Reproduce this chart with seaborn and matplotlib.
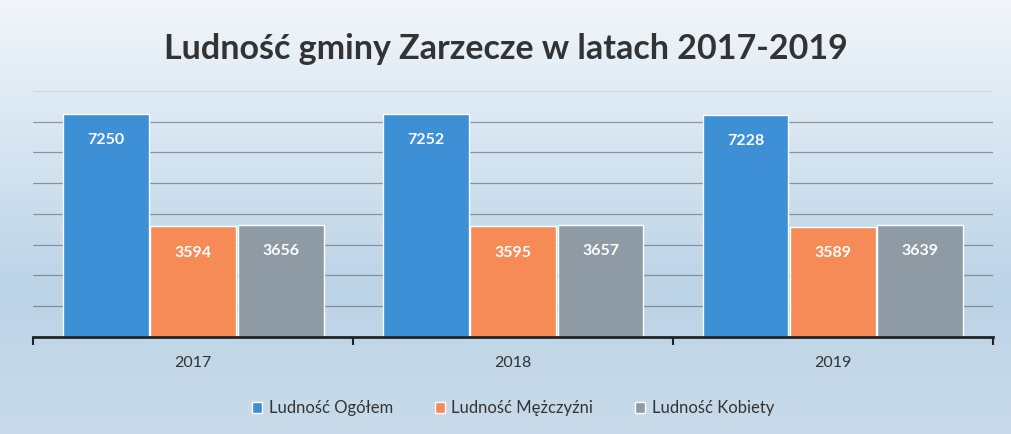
import numpy as np
import pandas as pd
import matplotlib
matplotlib.use("Agg")
import matplotlib.pyplot as plt
import seaborn as sns

sns.set_theme(style="white")
plt.rcParams["font.family"] = ["Lato", "DejaVu Sans"]

years = ["2017", "2018", "2019"]
series = ["Ludność Ogółem", "Ludność Mężczyźni", "Ludność Kobiety"]
ogolem = [7250, 7252, 7228]
mezczyzni = [3594, 3595, 3589]
kobiety = [3656, 3657, 3639]
colors = ["#3d8fd6", "#f68b57", "#8e9ba4"]

df = pd.DataFrame({
    "rok": years * 3,
    "seria": [s for s in series for _ in years],
    "liczba": ogolem + mezczyzni + kobiety,
})

fig = plt.figure(figsize=(10.11, 4.34), dpi=100)

# sky-like background
bg = fig.add_axes([0, 0, 1, 1], zorder=-10)
grad = np.linspace(0, 1, 256).reshape(-1, 1)
cmap = matplotlib.colors.LinearSegmentedColormap.from_list(
    "sky", ["#f2f6fa", "#d6e5f1", "#bcd3e6", "#c9dbea"])
bg.imshow(grad, aspect="auto", cmap=cmap, extent=[0, 1, 0, 1])
bg.axis("off")

ax = fig.add_axes([0.033, 0.2235, 0.949, 0.567])
ax.patch.set_alpha(0)
sns.barplot(data=df, x="rok", y="liczba", hue="seria", palette=colors,
            saturation=1, width=0.82, gap=0.02, ax=ax, legend=True)

for cont in ax.containers:
    ax.bar_label(cont, labels=[f"{int(v)}" for v in cont.datavalues],
                 padding=-24, color="white", fontweight="bold", fontsize=11.5)

ax.set_ylim(0, 8000)
ax.set_yticks(range(1000, 8001, 1000))
ax.set_yticklabels([])
ax.tick_params(axis="y", length=0)
ax.yaxis.grid(True, color="#555555", linewidth=0.9, alpha=0.55)
ax.get_ygridlines()[-1].set_alpha(0.15)
ax.set_axisbelow(True)
ax.set_xlim(-0.5, 2.5)
ax.tick_params(axis="x", which="major", bottom=False, length=0, labelsize=11.5,
               labelcolor="#333333", pad=14)
ax.set_xticks([-0.5, 0.5, 1.5, 2.5], minor=True)
ax.tick_params(axis="x", which="minor", bottom=True, length=6, width=1.5,
               color="#222222", direction="out")
for s in ["top", "right", "left"]:
    ax.spines[s].set_visible(False)
ax.spines["bottom"].set_color("#222222")
ax.spines["bottom"].set_linewidth(2)
ax.set_xlabel("")
ax.set_ylabel("")

ax.legend(loc="center", bbox_to_anchor=(0.5, -0.29), ncol=3,
          frameon=False, fontsize=12, handlelength=0.6, handleheight=0.6,
          handletextpad=0.4, columnspacing=2.5, labelcolor="#333333")

fig.text(0.5, 0.888, "Ludność gminy Zarzecze w latach 2017-2019",
         ha="center", va="center", fontsize=24.5, fontweight="bold",
         color="#333333")

fig.savefig("out.png", dpi=100)
